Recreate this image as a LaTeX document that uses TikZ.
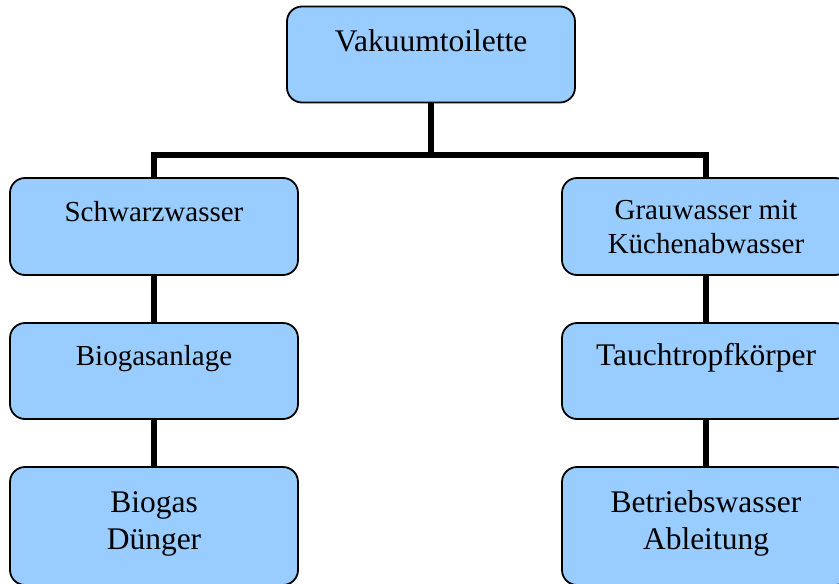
\documentclass[tikz,border=0pt]{standalone}
\usepackage{fontspec}
\setmainfont{Liberation Serif}
\definecolor{boxblue}{RGB}{153,204,255}
\tikzset{
  box/.style={rectangle, draw=black, line width=1.8pt, fill=boxblue,
    rounded corners=15pt, minimum width=288pt, minimum height=96pt, inner sep=0pt},
  big/.style={anchor=base, inner sep=0pt, font=\fontsize{31.5}{37}\selectfont},
  small/.style={anchor=base, inner sep=0pt, font=\fontsize{29}{34.5}\selectfont},
  conn/.style={draw=black, line width=5.5pt},
  busline/.style={draw=black, line width=6pt, line join=miter},
}
\begin{document}
\begin{tikzpicture}[x=1pt,y=-1pt]
\useasboundingbox (0,0) rectangle (839,584);
\clip (0,0) rectangle (839,584);

% boxes
\node[box] (top) at (431,54.5) {};
\node[box, minimum height=97pt] (L1) at (154,226.5) {};
\node[box] (L2) at (154,371) {};
\node[box, minimum height=118pt] (L3) at (154,526) {};
\node[box, minimum height=97pt] (R1) at (706,226.5) {};
\node[box] (R2) at (706,371) {};
\node[box, minimum height=118pt] (R3) at (706,526) {};

% labels
\node[big]   (tTop) at (431,51) {Vakuumtoilette};
\node[small] (tL1)  at (154,221.7) {Schwarzwasser};
\node[small] (tL2)  at (154,365) {Biogasanlage};
\node[big]   (tL3a) at (154,512) {Biogas};
\node[big]   (tL3b) at (154,549) {Dünger};
\node[small] (tR1a) at (706,219) {Grauwasser mit};
\node[small] (tR1b) at (706,253) {Küchenabwasser};
\node[big]   (tR2)  at (706,365) {Tauchtropfkörper};
\node[big]   (tR3a) at (706,512) {Betriebswasser};
\node[big]   (tR3b) at (706,549) {Ableitung};

% connectors
\coordinate (bus) at (431,155.3);
\draw[conn] (top.south) -- (bus);
\draw[busline] (L1.north) |- (bus) -| (R1.north);
\draw[conn] (L1.south) -- (L2.north);
\draw[conn] (L2.south) -- (L3.north);
\draw[conn] (R1.south) -- (R2.north);
\draw[conn] (R2.south) -- (R3.north);
\end{tikzpicture}
\end{document}
